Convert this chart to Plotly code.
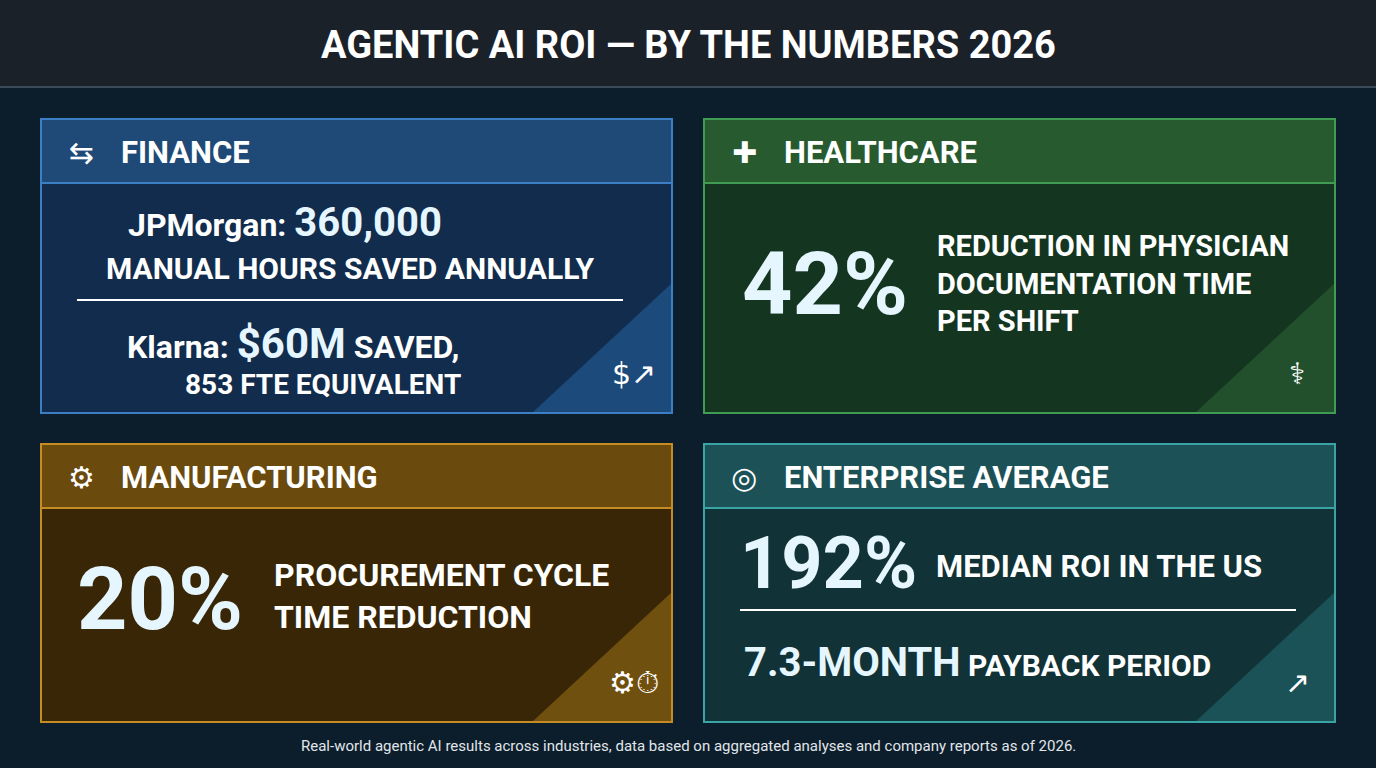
import plotly.graph_objects as go

W, H = 1376, 768

# panel content
panel_titles = ["FINANCE", "HEALTHCARE", "MANUFACTURING", "ENTERPRISE AVERAGE"]
panel_icons = ["⇆", "✚", "⚙", "◎"]
corner_icons = ["$↗", "⚕", "⚙⏱", "↗"]
big_values = ["42%", "20%", "192%"]
big_captions = ["REDUCTION IN PHYSICIAN<br>DOCUMENTATION TIME<br>PER SHIFT",
                "PROCUREMENT CYCLE<br>TIME REDUCTION",
                "MEDIAN ROI IN THE US"]
finance_values = ["360,000", "$60M"]
finance_text = ["JPMorgan:", "MANUAL HOURS SAVED ANNUALLY", "Klarna:", "SAVED,", "853 FTE EQUIVALENT"]
payback_value = "7.3-MONTH"
payback_text = "PAYBACK PERIOD"
title = "AGENTIC AI ROI — BY THE NUMBERS 2026"
footnote = ("Real-world agentic AI results across industries, data based on aggregated "
            "analyses and company reports as of 2026.")

# panel boxes: x0, y0, x1, y1, header colour, body colour, border colour, corner colour
boxes = [
    (41, 119, 672, 413, "#1f4a78", "#112c4c", "#3c7fc4", "#1c4a7a"),
    (704, 119, 1335, 413, "#285a30", "#143620", "#3f9c52", "#22502c"),
    (41, 444, 672, 722, "#6b4a0e", "#382606", "#c48c22", "#70500f"),
    (704, 444, 1335, 722, "#1c5257", "#113236", "#3aa3a3", "#1b5257"),
]

shapes = []
ann = []

# background + title bar
shapes.append(dict(type="rect", x0=0, y0=0, x1=W, y1=H, fillcolor="#0c1d2b", line_width=0, layer="below"))
shapes.append(dict(type="rect", x0=0, y0=0, x1=W, y1=86, fillcolor="#1b2129", line_width=0, layer="below"))
shapes.append(dict(type="line", x0=0, y0=87, x1=W, y1=87, line=dict(color="#3a4a58", width=2)))
ann.append(dict(x=W / 2, y=45, text="<b>" + title + "</b>", showarrow=False,
                font=dict(size=38, color="white", family="Roboto")))

for i, (x0, y0, x1, y1, hc, bc, brd, cc) in enumerate(boxes):
    shapes.append(dict(type="rect", x0=x0, y0=y0, x1=x1, y1=y1, fillcolor=bc, line_width=0))
    shapes.append(dict(type="path", path=f"M {x1-140},{y1} L {x1},{y1-130} L {x1},{y1} Z",
                       fillcolor=cc, line_width=0))
    shapes.append(dict(type="rect", x0=x0, y0=y0, x1=x1, y1=y0 + 64, fillcolor=hc, line_width=0))
    shapes.append(dict(type="line", x0=x0, y0=y0 + 64, x1=x1, y1=y0 + 64, line=dict(color=brd, width=2)))
    shapes.append(dict(type="rect", x0=x0, y0=y0, x1=x1, y1=y1, line=dict(color=brd, width=2),
                       fillcolor="rgba(0,0,0,0)"))
    ann.append(dict(x=x0 + 40, y=y0 + 33, text=panel_icons[i], showarrow=False,
                    font=dict(size=30, color="white", family="DejaVu Sans")))
    ann.append(dict(x=x0 + 78, y=y0 + 33, text="<b>" + panel_titles[i] + "</b>", showarrow=False,
                    xanchor="left", font=dict(size=31, color="white", family="Roboto")))
    ann.append(dict(x=x1 - 38, y=y1 - 40, text=corner_icons[i], showarrow=False,
                    font=dict(size=30, color="white", family="DejaVu Sans")))

glow = "#e6f6ff"
# finance
ann.append(dict(x=285, y=222, showarrow=False,
                text=f"<b>{finance_text[0]} <span style='font-size:40px;color:{glow}'>{finance_values[0]}</span></b>",
                font=dict(size=32, color="white", family="Roboto")))
ann.append(dict(x=350, y=268, showarrow=False, text=f"<b>{finance_text[1]}</b>",
                font=dict(size=30, color="white", family="Roboto")))
shapes.append(dict(type="line", x0=77, y0=300, x1=623, y1=300, line=dict(color="white", width=2)))
ann.append(dict(x=293, y=343, showarrow=False,
                text=f"<b>{finance_text[2]} <span style='font-size:42px;color:{glow}'>{finance_values[1]}</span> {finance_text[3]}</b>",
                font=dict(size=32, color="white", family="Roboto")))
ann.append(dict(x=323, y=384, showarrow=False, text=f"<b>{finance_text[4]}</b>",
                font=dict(size=28, color="white", family="Roboto")))

# healthcare
ann.append(dict(x=825, y=283, showarrow=False, text=f"<b>{big_values[0]}</b>",
                font=dict(size=88, color=glow, family="Roboto")))
ann.append(dict(x=935, y=283, showarrow=False, xanchor="left", align="left",
                text=f"<b>{big_captions[0]}</b>",
                font=dict(size=29, color="white", family="Roboto")))

# manufacturing
ann.append(dict(x=160, y=598, showarrow=False, text=f"<b>{big_values[1]}</b>",
                font=dict(size=88, color=glow, family="Roboto")))
ann.append(dict(x=272, y=596, showarrow=False, xanchor="left", align="left",
                text=f"<b>{big_captions[1]}</b>",
                font=dict(size=32, color="white", family="Roboto")))

# enterprise
ann.append(dict(x=828, y=563, showarrow=False, text=f"<b>{big_values[2]}</b>",
                font=dict(size=72, color=glow, family="Roboto")))
ann.append(dict(x=934, y=566, showarrow=False, xanchor="left",
                text=f"<b>{big_captions[2]}</b>",
                font=dict(size=31, color="white", family="Roboto")))
shapes.append(dict(type="line", x0=740, y0=610, x1=1296, y1=610, line=dict(color="white", width=2)))
ann.append(dict(x=742, y=662, showarrow=False, xanchor="left",
                text=f"<b><span style='font-size:40px;color:{glow}'>{payback_value}</span> {payback_text}</b>",
                font=dict(size=30, color="white", family="Roboto")))

ann.append(dict(x=W / 2, y=746, showarrow=False, text=footnote,
                font=dict(size=15, color="#e0e6ea", family="Roboto")))

fig = go.Figure()
fig.update_layout(
    width=W, height=H, margin=dict(l=0, r=0, t=0, b=0),
    paper_bgcolor="#0c1d2b", plot_bgcolor="#0c1d2b",
    xaxis=dict(range=[0, W], visible=False, fixedrange=True),
    yaxis=dict(range=[H, 0], visible=False, fixedrange=True),
    shapes=shapes, annotations=ann, showlegend=False,
)
fig.write_html("out.html", config={"displayModeBar": False},
               post_script="document.body.style.margin='0';document.body.style.overflow='hidden';"
                           "document.body.style.background='#0c1d2b';")
